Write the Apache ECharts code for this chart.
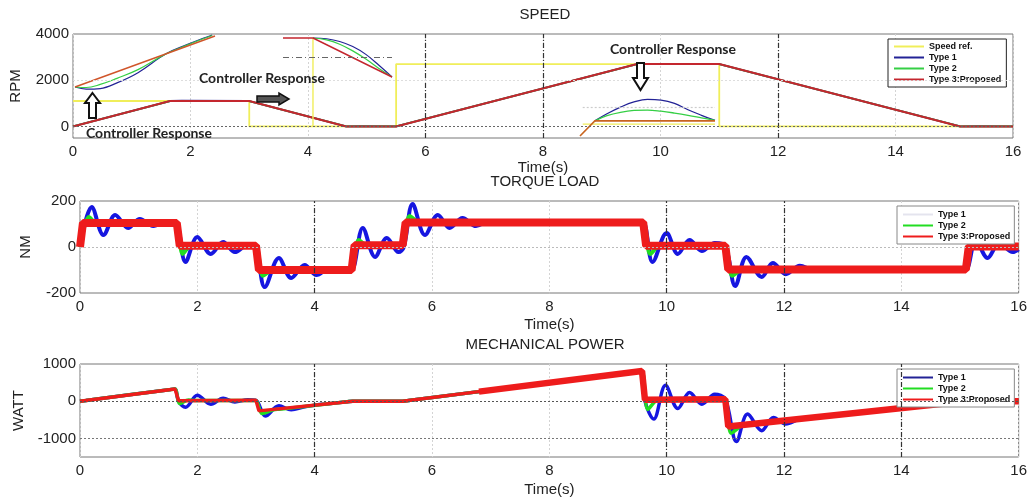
<!DOCTYPE html>
<html><head><meta charset="utf-8">
<script src="https://cdn.jsdelivr.net/npm/echarts@6/dist/echarts.min.js"></script>
<style>html,body{margin:0;padding:0;background:#fff}#c{width:1030px;height:498px}</style>
</head><body><div id="c"></div><script>
// ---------------- DATA ----------------
const timeTicksMax = 16;
const speedYTicks = [0, 2000, 4000];
const powerYTicks = [-1000, 0, 1000];

// SPEED panel (RPM)
const speedRef   = [[0,1100],[3,1100],[3,0],[5.5,0],[5.5,2700],[11,2700],[11,0],[16,0]];
const speedType1 = [[0,0],[1.65,1100],[1.85,1115],[3.0,1100],[4.65,0],[4.9,12],[5.5,0],[9.6,2700],[11.0,2700],[15.1,0],[15.4,12],[16,0]];
const speedType2 = [[0,0],[1.65,1100],[3.0,1100],[4.65,0],[5.5,0],[9.6,2700],[11.0,2700],[15.1,0],[16,0]];
const speedType3 = [[0,0],[1.65,1100],[3.0,1100],[4.65,0],[5.5,0],[9.6,2700],[11.0,2700],[15.1,0],[16,0]];

// Zoomed insets inside the SPEED panel (normalised 0-100 units)
const inset1Type1 = [[0,0],[8,-4],[18,-3],[30,8],[45,28],[65,65],[80,83],[92,96],[98,102]];
const inset1Type2 = [[0,0],[8,-1],[18,5],[30,17],[45,34],[65,65],[80,82],[92,95],[98,101]];
const inset1Type3 = [[0,0],[100,100]];
const inset2Ref   = [[27.5,100],[27.5,-128]];
const inset2Type1 = [[27.5,100],[40,98],[52,91],[64,78],[76,58],[88,30],[100,0]];
const inset2Type2 = [[27.5,100],[40,95],[52,84],[64,67],[76,46],[88,22],[100,0]];
const inset2Type3 = [[0,100],[27.5,100],[100,0]];
const inset3Ref   = [[2,32],[100,32]];
const inset3Type1 = [[11,41],[20,60],[30,78],[40,92],[50,99],[60,97],[70,88],[80,71],[90,56],[100,42]];
const inset3Type2 = [[11,41],[20,55],[30,64],[40,69],[50,70],[60,67],[70,62],[80,56],[90,49],[100,42]];
const inset3Type3 = [[0,0],[11,41],[100,41]];

// TORQUE LOAD panel (NM)
const torqueType1 = [[0,0],[0.2,174],[0.4,52],[0.6,139],[0.82,83],[1.02,122],[1.25,91],[1.48,113],[1.6,104],[1.66,100],
  [1.8,-65],[2.0,43],[2.23,-30],[2.44,22],[2.64,-22],[2.86,9],[2.99,2],
  [3.15,-174],[3.39,-48],[3.6,-135],[3.83,-78],[4.03,-122],[4.26,-91],[4.45,-104],[4.55,-100],[4.63,-100],
  [4.82,83],[5.03,-43],[5.23,39],[5.43,-22],[5.52,0],
  [5.67,187],[5.88,52],[6.1,139],[6.3,83],[6.52,126],[6.75,91],[6.98,113],[7.2,104],[7.3,105],[9.5,106],[9.6,106],
  [9.76,-65],[10.0,61],[10.19,-30],[10.39,30],[10.6,-17],[10.82,17],[11.0,3],
  [11.17,-170],[11.36,-43],[11.62,-130],[11.81,-70],[12.03,-118],[12.27,-81],[12.5,-100],[12.6,-100],[15.0,-98],[15.1,-98],
  [15.27,30],[15.47,-48],[15.67,17],[15.9,-22],[16,-10]];
const torqueType2 = [[0,0],[0.15,130],[0.3,100],[0.45,106],[0.55,104],[1.55,104],[1.65,104],[1.75,-30],[1.9,8],[2.0,5],[2.9,5],[3.0,5],
  [3.12,-125],[3.3,-98],[3.4,-100],[4.55,-100],[4.63,-100],[4.75,30],[4.9,5],[5.0,8],[5.4,8],[5.5,8],[5.62,135],[5.8,104],[5.9,105],
  [9.5,106],[9.6,106],[9.72,-30],[9.88,5],[10.0,5],[10.9,5],[11.0,5],[11.12,-125],[11.3,-98],[11.4,-98],[15.0,-98],[15.1,-98],
  [15.22,25],[15.4,2],[15.5,2],[16,2]];
const torqueType3 = [[0,0],[0.05,104],[1.65,104],[1.7,5],[3.0,5],[3.05,-100],[4.63,-100],[4.68,8],[5.5,8],[5.55,106],
  [9.6,106],[9.65,5],[11.0,5],[11.05,-98],[15.1,-98],[15.15,2],[16,2]];

// MECHANICAL POWER panel (WATT)
const powerType1 = [[0,0],[0.1,20],[1.52,310],[1.62,330],[1.68,0],[1.8,-160],[2.0,160],[2.23,-80],[2.44,80],[2.64,-20],[2.86,40],[3.0,20],
  [3.16,-400],[3.39,-124],[3.6,-231],[3.83,-150],[4.03,-100],[4.2,-75],[4.55,-15],[4.65,0],[4.75,0],[5.4,0],[5.5,0],[5.6,20],[9.48,790],[9.58,810],[9.63,0],
  [9.78,-480],[9.98,427],[10.19,-196],[10.39,231],[10.6,-80],[10.82,187],[11.0,50],
  [11.19,-1084],[11.38,-347],[11.62,-791],[11.82,-436],[12.03,-613],[12.27,-480],[12.5,-440],[12.7,-405],[15.0,-17],[15.1,0],[15.2,0],[16,0]];
const powerType2 = [[0,0],[0.1,20],[1.52,310],[1.62,330],[1.7,-60],[1.85,30],[1.95,22],[2.9,20],[3.0,20],[3.1,-330],[3.3,-230],[3.4,-215],
  [4.55,-15],[4.65,0],[4.75,0],[5.4,0],[5.5,0],[5.6,20],[9.48,790],[9.58,810],
  [9.68,-220],[9.85,40],[9.95,45],[10.9,50],[11.0,50],[11.1,-860],[11.3,-640],[11.4,-620],[15.0,-17],[15.1,0],[15.2,0],[16,0]];
// Type 3 drawn in two pieces: thin trace at low power, thick (noisy) trace at high power
const powerType3Low  = [[0,0],[1.62,330],[1.68,10],[3.0,25],[3.05,-260],[4.65,0],[5.5,0],[7.0,298]];
const powerType3High = [[6.8,257],[9.58,810],[9.63,40],[11.0,50],[11.05,-680],[15.1,0],[16,0]];

// ---------------- CHART ----------------
const chart = echarts.init(document.getElementById('c'), null, {renderer:'canvas'});
const FONT = 'Liberation Sans, Arial, sans-serif';
const C = {ref:'#f0ee5a', t1:'#232396', t2:'#35cf45', t3:'#c4262e', bt1:'#1616e0', bt2:'#22dd22', bt3:'#ee1c1c'};
const plain = v => String(v);

function mainX(gi, nameGap) {
  return {gridIndex:gi, type:'value', min:0, max:timeTicksMax, interval:2,
    name:'Time(s)', nameLocation:'middle', nameGap:nameGap,
    nameTextStyle:{fontFamily:FONT, fontSize:15, color:'#222'},
    axisLine:{show:false}, axisTick:{show:false},
    axisLabel:{fontFamily:FONT, fontSize:15, color:'#222', margin:6, formatter:plain},
    splitLine:{show:true, lineStyle:{color:'#d4d4d4', type:[2,2], width:1}}};
}
function hidAxis(gi, min, max) {
  return {gridIndex:gi, type:'value', min:min, max:max, show:false, splitLine:{show:false}};
}
function ln(name, data, color, width, xi, extra) {
  return Object.assign({name:name, type:'line', data:data, xAxisIndex:xi, yAxisIndex:xi,
    symbol:'none', clip:false, silent:true, animation:false,
    lineStyle:{color:color, width:width}, itemStyle:{color:color}}, extra||{});
}
function gridMarks(xi, darkX, yLines) {
  const data = darkX.map(v => ({xAxis:v, lineStyle:{color:'#333', type:[5,2,1,2], width:1.2}}));
  yLines.forEach(y => data.push({yAxis:y.v, lineStyle:{color:y.c, type:[2,2], width:1}}));
  return {type:'line', data:[], xAxisIndex:xi, yAxisIndex:xi, silent:true, z:1, animation:false,
    markLine:{symbol:'none', silent:true, label:{show:false}, animation:false, data:data}};
}
function legendData(items) {
  return items.map(it => ({name:it[0], itemStyle:{color:it[1]}}));
}
const legBase = {orient:'vertical', icon:'rect', itemWidth:30, itemHeight:2, itemGap:2,
  selectedMode:false, backgroundColor:'#fff', borderWidth:1,
  textStyle:{fontFamily:FONT, fontSize:9, fontWeight:'bold', color:'#111', padding:[0,0,0,0]}};
const yName = {fontFamily:FONT, fontSize:15, color:'#222'};

const option = {
  backgroundColor:'#fff',
  animation:false,
  grid:[
    {left:73, right:17, top:34, height:104, show:true, borderColor:'#777', borderWidth:1},
    {left:80, right:11, top:201, height:92, show:true, borderColor:'#777', borderWidth:1},
    {left:80, right:11, top:364, height:94, show:true, borderColor:'#777', borderWidth:1},
    {left:75, top:36, width:140, height:51},
    {left:283, top:38, width:109, height:39},
    {left:580, top:99, width:135, height:37}
  ],
  xAxis:[ mainX(0,22), mainX(1,24), mainX(2,25), hidAxis(3,0,100), hidAxis(4,0,100), hidAxis(5,0,100) ],
  yAxis:[
    {gridIndex:0, type:'value', min:-500, max:4000, name:'RPM', nameLocation:'middle', nameGap:50,
      nameTextStyle:yName, axisLine:{show:false}, axisTick:{show:false}, splitLine:{show:false},
      axisLabel:{fontFamily:FONT, fontSize:15, color:'#222', margin:4, customValues:speedYTicks, formatter:plain}},
    {gridIndex:1, type:'value', min:-200, max:200, interval:200, name:'NM', nameLocation:'middle', nameGap:47,
      nameTextStyle:yName, axisLine:{show:false}, axisTick:{show:false}, splitLine:{show:false},
      axisLabel:{fontFamily:FONT, fontSize:15, color:'#222', margin:4, formatter:plain}},
    {gridIndex:2, type:'value', min:-1500, max:1000, name:'WATT', nameLocation:'middle', nameGap:51,
      nameTextStyle:yName, axisLine:{show:false}, axisTick:{show:false}, splitLine:{show:false},
      axisLabel:{fontFamily:FONT, fontSize:15, color:'#222', margin:4, customValues:powerYTicks, formatter:plain}},
    hidAxis(3,0,100), hidAxis(4,0,100), hidAxis(5,0,100)
  ],
  legend:[
    Object.assign({}, legBase, {left:888, top:39, borderColor:'#222', padding:[3,5,3,6],
      data:legendData([['Speed ref.',C.ref],['Type 1',C.t1],['Type 2',C.t2],['Type 3:Proposed',C.t3]])}),
    Object.assign({}, legBase, {left:897, top:206, borderColor:'#888', padding:[4,4,3,6],
      data:legendData([['Type 1','#e4e4ee'],['Type 2',C.bt2],['Type 3:Proposed',C.bt3]])}),
    Object.assign({}, legBase, {left:897, top:369, borderColor:'#888', padding:[4,4,3,6],
      data:legendData([['Type 1',C.t1],['Type 2',C.bt2],['Type 3:Proposed',C.bt3]])})
  ],
  series:[
    gridMarks(0, [6,8,12], [{v:0,c:'#666'},{v:2000,c:'#ddd'}]),
    gridMarks(1, [4,10,12], [{v:0,c:'#bbb'}]),
    gridMarks(2, [4,10,12,14], [{v:0,c:'#555'},{v:-1000,c:'#777'}]),
    // SPEED
    ln('Speed ref.', speedRef, C.ref, 1.8, 0),
    ln('Type 1', speedType1, C.t1, 1.8, 0),
    ln('Type 2', speedType2, C.t2, 1.8, 0),
    ln('Type 3:Proposed', speedType3, C.t3, 2, 0),
    // insets
    ln('Type 1', inset1Type1, C.t1, 1.2, 3, {smooth:0.4}),
    ln('Type 2', inset1Type2, C.t2, 1.2, 3, {smooth:0.4}),
    ln('Type 3:Proposed', inset1Type3, '#d0552a', 1.4, 3),
    ln('Speed ref.', inset2Ref, C.ref, 1.4, 4, {markLine:{symbol:'none', silent:true, label:{show:false},
      lineStyle:{color:'#666', type:[6,3,1,3], width:1.2}, data:[{yAxis:51},{yAxis:-26}]}}),
    ln('Type 1', inset2Type1, C.t1, 1.2, 4, {smooth:0.4}),
    ln('Type 2', inset2Type2, C.t2, 1.2, 4, {smooth:0.4}),
    ln('Type 3:Proposed', inset2Type3, C.t3, 1.4, 4),
    ln('Speed ref.', inset3Ref, C.ref, 1.4, 5, {markLine:{symbol:'none', silent:true, label:{show:false},
      lineStyle:{color:'#444', type:[3,2], width:1.2},
      data:[[{coord:[85,132]},{coord:[85,-5]}],
            [{coord:[2,111], lineStyle:{color:'#ccc', type:[2,2]}},{coord:[100,111]}],
            [{coord:[2,78], lineStyle:{color:'#ccc', type:[2,2]}},{coord:[100,78]}]]}}),
    ln('Type 1', inset3Type1, C.t1, 1.3, 5, {smooth:0.4}),
    ln('Type 2', inset3Type2, C.t2, 1.3, 5, {smooth:0.4}),
    ln('Type 3:Proposed', inset3Type3, '#c8641e', 1.6, 5),
    // TORQUE
    ln('Type 1', torqueType1, C.bt1, 4, 1, {smooth:0.35}),
    ln('Type 2', torqueType2, C.bt2, 4, 1, {smooth:0.3}),
    ln('Type 3:Proposed', torqueType3, C.bt3, 8, 1),
    // POWER
    ln('Type 1', powerType1, C.bt1, 3.5, 2, {smooth:0.35}),
    ln('Type 2', powerType2, C.bt2, 3.5, 2, {smooth:0.3}),
    ln('Type 3:Proposed', powerType3Low, C.bt3, 3.5, 2),
    ln('Type 3:Proposed', powerType3High, C.bt3, 6.5, 2)
  ],
  graphic:[
    {type:'text', x:545, y:15, style:{text:'SPEED', font:'15px '+FONT, fill:'#222', textAlign:'center', textVerticalAlign:'middle'}},
    {type:'text', x:545, y:182, style:{text:'TORQUE LOAD', font:'15px '+FONT, fill:'#222', textAlign:'center', textVerticalAlign:'middle'}},
    {type:'text', x:545, y:345, style:{text:'MECHANICAL POWER', font:'15px '+FONT, fill:'#222', textAlign:'center', textVerticalAlign:'middle'}},
    {type:'text', x:86, y:133, z:100, style:{text:'Controller Response', font:'bold 14px Lato, Open Sans, sans-serif', fill:'#222', textAlign:'left', textVerticalAlign:'middle'}},
    {type:'text', x:199, y:78, z:100, style:{text:'Controller Response', font:'bold 14px Lato, Open Sans, sans-serif', fill:'#222', textAlign:'left', textVerticalAlign:'middle'}},
    {type:'text', x:610, y:49, z:100, style:{text:'Controller Response', font:'bold 14px Lato, Open Sans, sans-serif', fill:'#222', textAlign:'left', textVerticalAlign:'middle'}},
    {type:'polygon', z:100, shape:{points:[[92.5,93],[100,103],[96,103],[96,118],[89,118],[89,103],[85,103]]},
      style:{fill:'#fff', stroke:'#111', lineWidth:2}},
    {type:'polygon', z:100, shape:{points:[[257,96],[279,96],[279,93],[289,99],[279,105],[279,102],[257,102]]},
      style:{fill:'#555', stroke:'#111', lineWidth:1.5}},
    {type:'polygon', z:100, shape:{points:[[637,63],[644,63],[644,78],[648,78],[640.5,90],[633,78],[637,78]]},
      style:{fill:'#fff', stroke:'#111', lineWidth:2}}
  ]
};
chart.setOption(option);
</script></body></html>
